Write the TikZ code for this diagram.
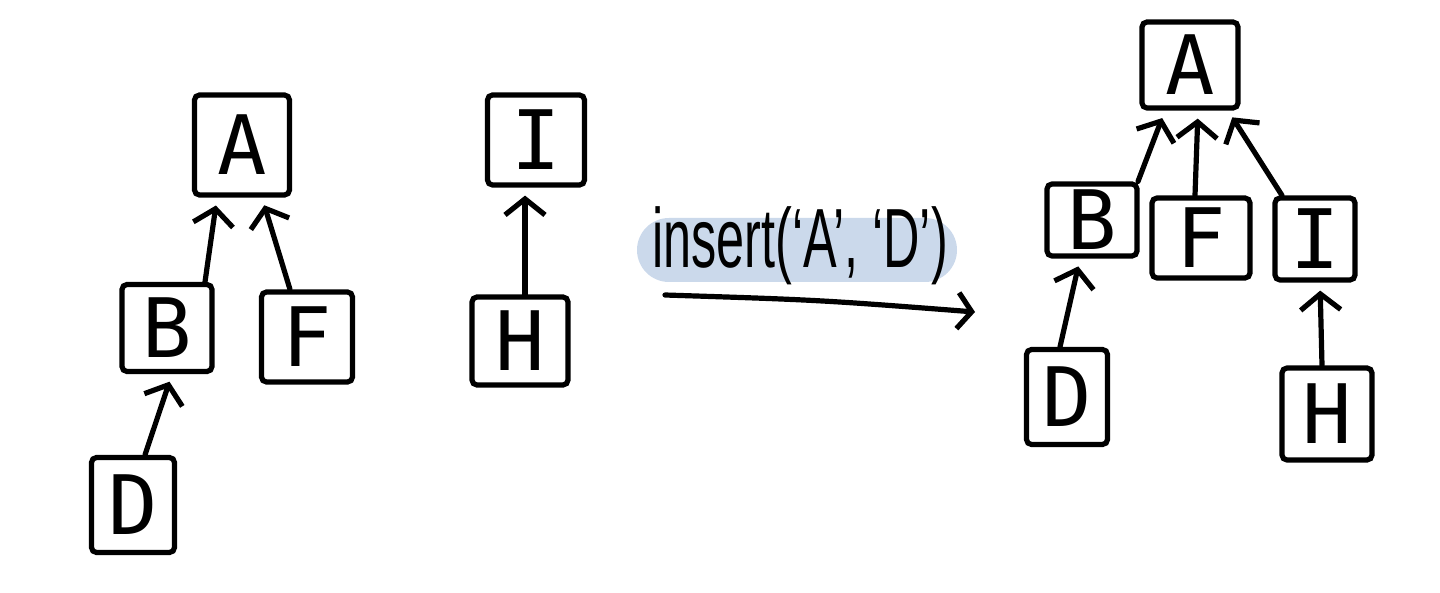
\documentclass[tikz,border=0pt]{standalone}
\usepackage{fontspec}
\setmainfont{Liberation Sans}
\newfontfamily\boxfont{DejaVu Sans Mono}
\usetikzlibrary{arrows.meta,calc}
\definecolor{hl}{HTML}{CBD9EB}
\tikzset{
  tbox/.style={draw, line width=2.6pt, rounded corners=2.5pt, inner sep=0pt,
               font=\boxfont\fontsize{41}{41}\selectfont},
  arr/.style={line width=2.6pt, line cap=round,
              -{Straight Barb[length=8pt,width=20pt,line width=2.6pt]}, shorten >=4pt},
}
\newcommand{\bx}[5]{\node[tbox, minimum width=#3pt, minimum height=#4pt] (#1) at #2 {#5};}
\begin{document}
\begin{tikzpicture}[x=0.5pt, y=-0.5pt]
\useasboundingbox (0,0) rectangle (1440,593);

% left forest: tree rooted at A
\bx{lA}{(242,145)}{47.5}{50}{A}
\bx{lB}{(167,328)}{45}{43.5}{B}
\bx{lF}{(307,337)}{45.5}{45}{F}
\bx{lD}{(133,505)}{41.5}{47.5}{D}
% left forest: tree rooted at I
\bx{lI}{(536,140)}{48.5}{45}{I}
\bx{lH}{(520,341)}{48}{44}{H}

\draw[arr] ($(lB.north)+(38,0)$) -- ($(lA.south)+(-25,0)$);
\draw[arr] ($(lF.north)+(-17,0)$) -- ($(lA.south)+(20,0)$);
\draw[arr] ($(lD.north)+(12,0)$) -- ($(lB.south)+(5,0)$);
\draw[arr] ($(lH.north)+(5,0)$) -- ($(lI.south)+(-11,0)$);

% operation label
\node[fill=hl, rounded corners=16pt, minimum width=160pt, minimum height=32pt] (op) at (797,250) {};
\node (optext) at (800,246) {\scalebox{0.6}[1]{\fontsize{42}{42}\selectfont insert(`A', `D')}};
\coordinate (s0) at (665,295);
\coordinate (s1) at (975,312);
\draw[line width=2.6pt, line cap=round, -{Straight Barb[length=7pt,width=18pt,line width=2.6pt]}]
  (s0) .. controls (820,300) .. (s1);

% resulting tree
\bx{rA}{(1190,65)}{48}{43}{A}
\bx{rB}{(1092,220)}{45}{36}{B}
\bx{rF}{(1201,238)}{49}{40}{F}
\bx{rI}{(1315,239)}{40}{41}{I}
\bx{rD}{(1067,397)}{40.5}{47.5}{D}
\bx{rH}{(1327,414)}{45}{46}{H}

\draw[arr] ($(rB.north)+(46,0)$) -- ($(rA.south)+(-25,0)$);
\draw[arr] ($(rF.north)+(-6,0)$) -- ($(rA.south)+(8,0)$);
\draw[arr] ($(rI.north)+(-33,0)$) -- ($(rA.south)+(38,0)$);
\draw[arr] ($(rD.north)+(-7,0)$) -- ($(rB.south)+(-12,0)$);
\draw[arr] ($(rH.north)+(-5,0)$) -- ($(rI.south)+(5,0)$);
\end{tikzpicture}
\end{document}
